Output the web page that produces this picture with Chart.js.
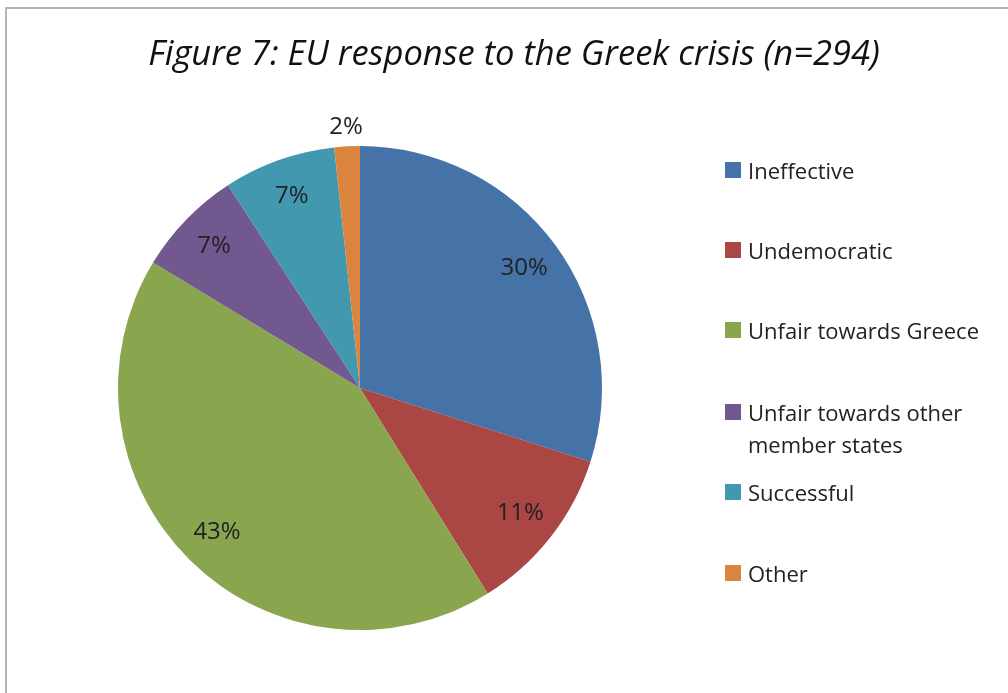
<!DOCTYPE html>
<html>
<head>
<meta charset="utf-8">
<script src="https://cdn.jsdelivr.net/npm/chart.js@4"></script>
<style>
    body { margin: 0; background: #fff; }
    #frame {
        position: absolute; left: 5px; top: 7px;
        width: 1100px; height: 800px;
        border: 2px solid #b4b4b4;
    }
    #wrap { position: absolute; left: 0; top: 0; width: 1008px; height: 693px; }
    #title {
        position: absolute; left: 0; top: 28px; width: 1028px; text-align: center;
        font-family: "Open Sans", sans-serif; font-style: italic; font-size: 34.5px; line-height: 48px; color: #111;
        white-space: nowrap;
    }
    #legend { position: absolute; left: 725px; top: 0; font-family: "Open Sans", sans-serif; font-size: 22px; color: #222; }
    .item { position: absolute; left: 0; width: 280px; line-height: 32px; }
    .box { position: absolute; left: 0; top: 8px; width: 16px; height: 16px; }
    .txt { position: absolute; left: 23px; top: 0; white-space: nowrap; }
</style>
</head>
<body>
<div id="frame"></div>
<div id="wrap">
    <canvas id="myChart" width="1008" height="693"></canvas>
    <div id="title">Figure 7: EU response to the Greek crisis (n=294)</div>
    <div id="legend"></div>
</div>
<script>
const categories = ["Ineffective", "Undemocratic", "Unfair towards Greece", "Unfair towards other member states", "Successful", "Other"];
const counts = [88, 33, 125, 21, 22, 5];
const colours = ["#4572a7", "#aa4643", "#89a54e", "#71588f", "#4198af", "#db843d"];
const legendTops = [154, 234, 314, 396, 476, 557];

const total = counts.reduce((a, b) => a + b, 0);

const sliceLabels = {
    id: 'sliceLabels',
    afterDatasetsDraw(chart) {
        const { ctx } = chart;
        const arcs = chart.getDatasetMeta(0).data;
        ctx.save();
        ctx.font = '24px "Open Sans", sans-serif';
        ctx.fillStyle = '#222';
        ctx.textAlign = 'center';
        ctx.textBaseline = 'middle';
        arcs.forEach((arc, i) => {
            const pct = counts[i] / total * 100;
            const mid = (arc.startAngle + arc.endAngle) / 2;
            // small slices get their label outside the pie
            const r = pct < 4 ? arc.outerRadius + 19 : arc.outerRadius * 0.84;
            const x = arc.x + Math.cos(mid) * r;
            const y = arc.y + Math.sin(mid) * r;
            ctx.fillText(Math.round(pct) + '%', x, y);
        });
        ctx.restore();
    }
};

function buildLegend() {
    const legend = document.getElementById('legend');
    const lines = [["Ineffective"], ["Undemocratic"], ["Unfair towards Greece"], ["Unfair towards other", "member states"], ["Successful"], ["Other"]];
    categories.forEach((cat, i) => {
        const item = document.createElement('div');
        item.className = 'item';
        item.style.top = legendTops[i] + 'px';
        item.innerHTML = '<div class="box" style="background:' + colours[i] + '"></div>' +
            '<div class="txt">' + lines[i].join('<br>') + '</div>';
        legend.appendChild(item);
    });
}

const chartElement = document.getElementById('myChart');
new Chart(chartElement, {
    type: 'pie',
    data: {
        labels: categories,
        datasets: [{
            data: counts,
            backgroundColor: colours,
            borderWidth: 0,
            hoverOffset: 0
        }]
    },
    options: {
        responsive: false,
        animation: false,
        layout: { padding: { left: 118, right: 406, top: 146, bottom: 63 } },
        plugins: {
            legend: { display: false },
            tooltip: { enabled: false },
            title: { display: false }
        }
    },
    plugins: [sliceLabels]
});
buildLegend();
</script>
</body>
</html>
